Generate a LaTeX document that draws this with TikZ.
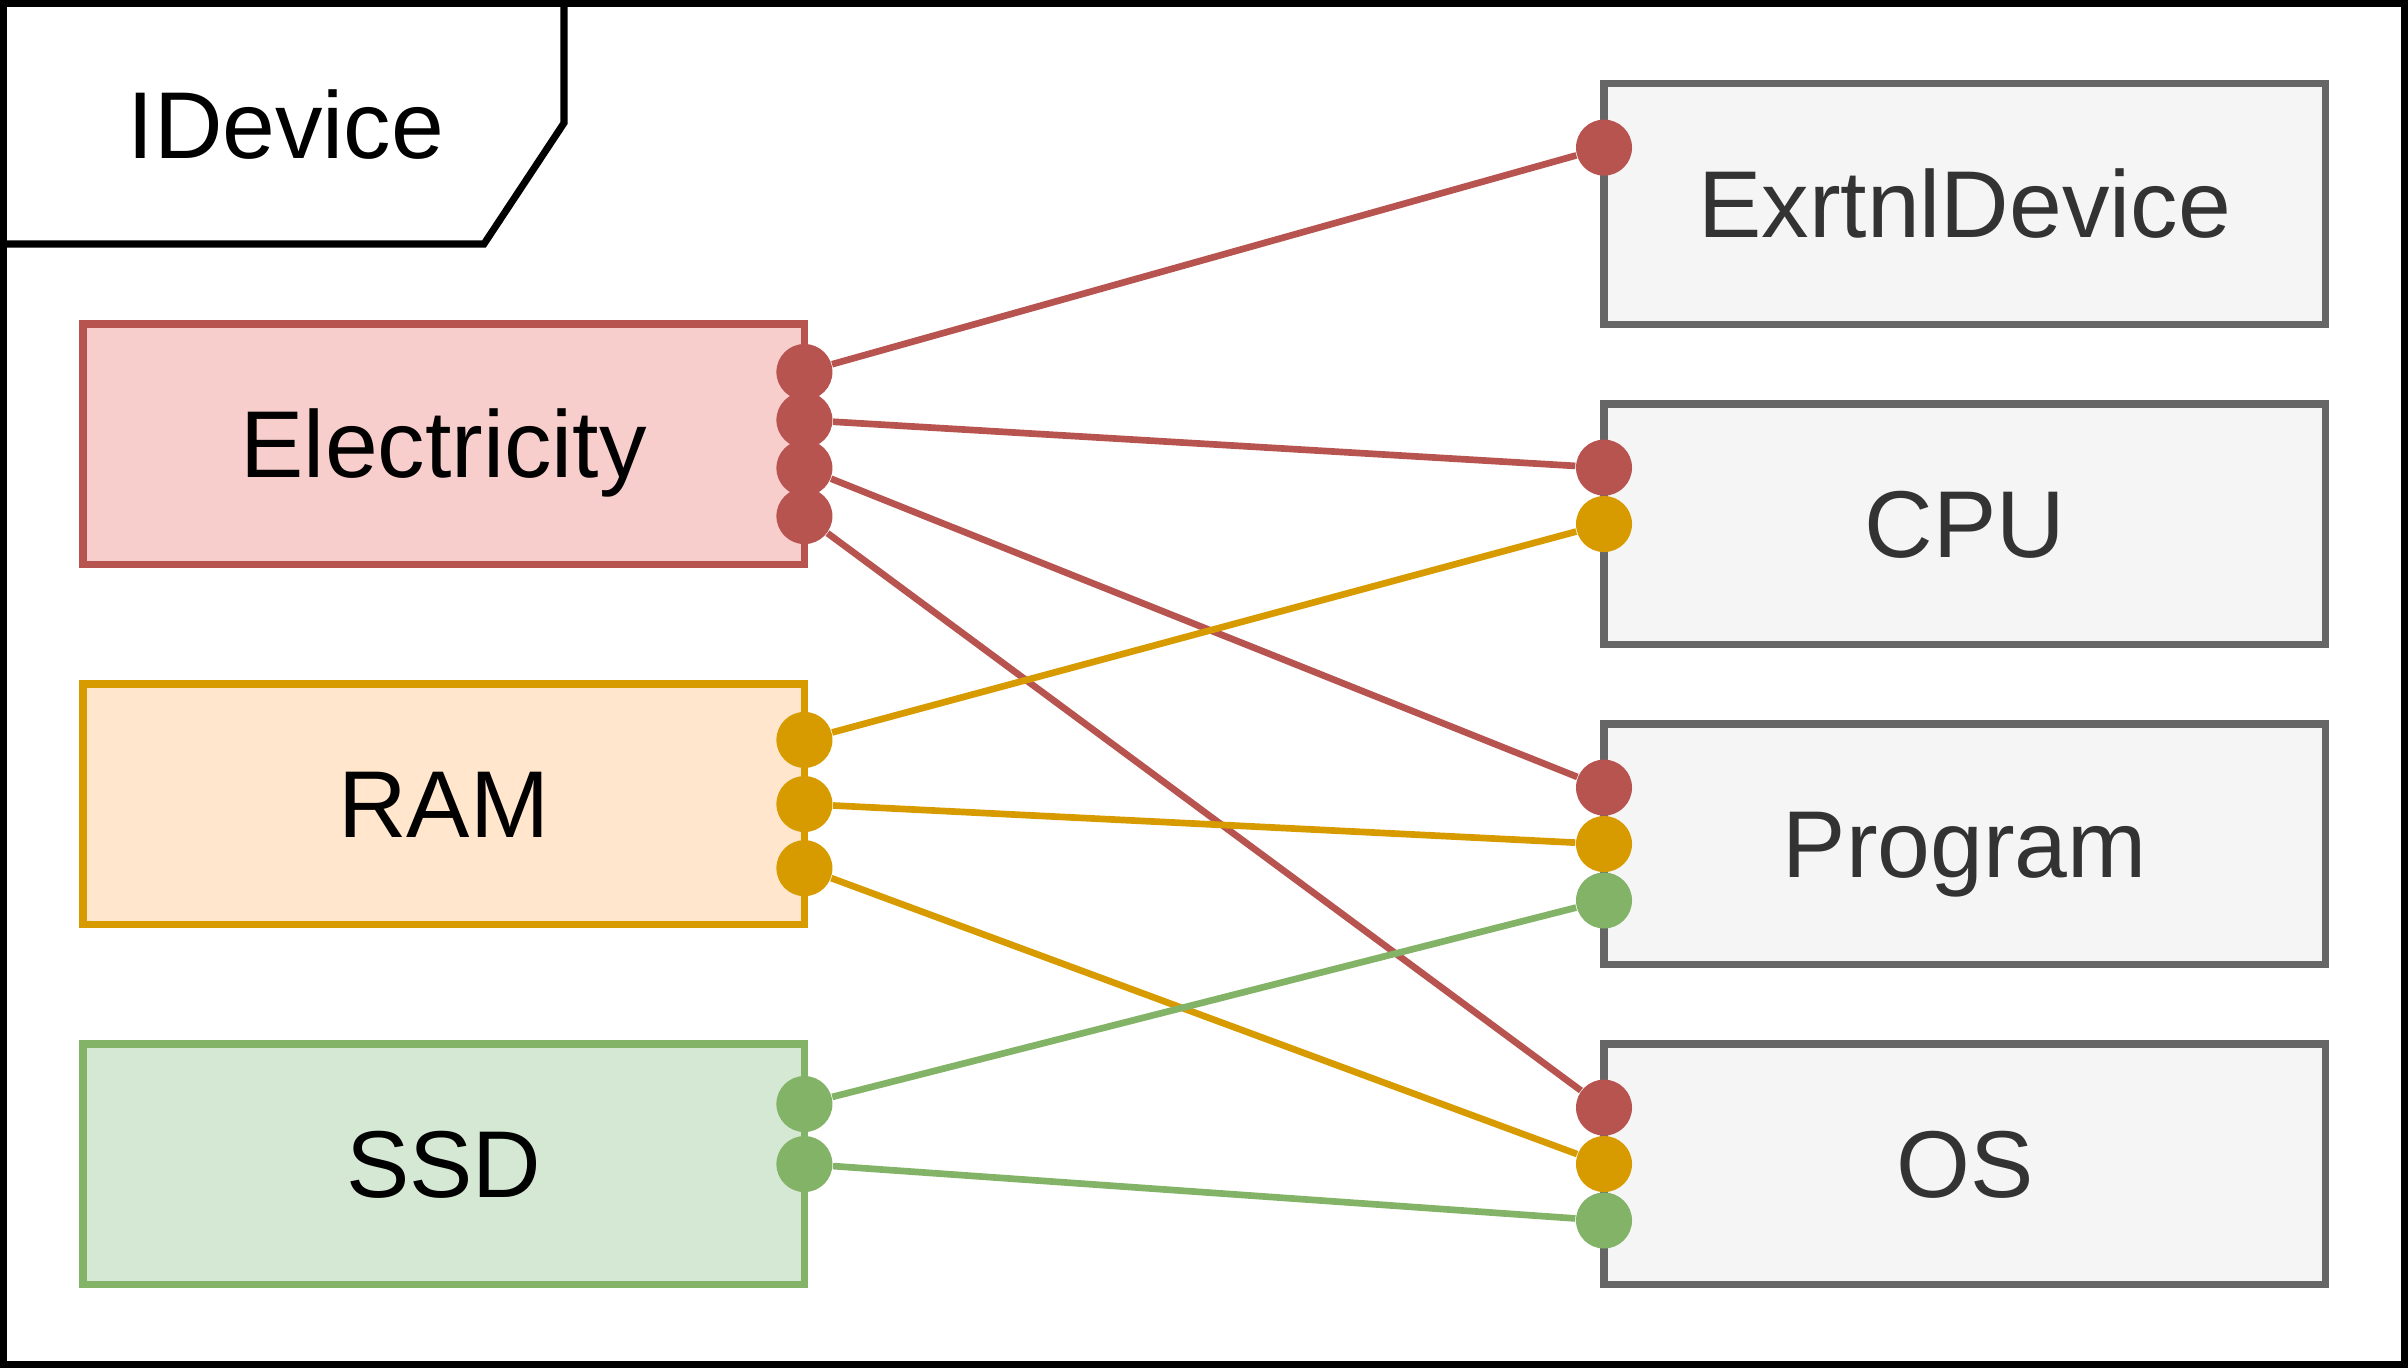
\documentclass[tikz,border=0pt]{standalone}
\usepackage{fontspec}
\setmainfont{Liberation Sans}
\usetikzlibrary{positioning,calc}
\definecolor{elecred}{HTML}{B85450}
\definecolor{elecfill}{HTML}{F8CECC}
\definecolor{ramorange}{HTML}{D79B00}
\definecolor{ramfill}{HTML}{FFE6CC}
\definecolor{ssdgreen}{HTML}{82B366}
\definecolor{ssdfill}{HTML}{D5E8D4}
\definecolor{extgray}{HTML}{666666}
\definecolor{extfill}{HTML}{F5F5F5}
\definecolor{exttext}{HTML}{333333}

\begin{document}
\begin{tikzpicture}[
        x=0.01cm, y=-0.01cm,
        % text is centred on its capitals
        label/.style={inner sep=0pt, text height=19.3pt, text depth=0pt,
            font=\fontsize{27}{32}\selectfont},
        box/.style 2 args={rectangle, draw=#1, fill=#2, line width=2pt, outer sep=0pt,
            minimum width=7.21cm, minimum height=2.4cm, label},
        port/.style={circle, fill=#1, minimum size=0.56cm, inner sep=0pt},
        link/.style={draw=#1, line width=1.9pt}
    ]
        \useasboundingbox (0,0) rectangle (2408,1368);

        % Frame and tab
        \draw[line width=2pt] (3.5,3.5) rectangle (2404.5,1364.5);
        \draw[line width=2pt] (3.5,3.5) -- (564,3.5) -- (564,123) -- (484,244) -- (3.5,244);
        \node[label] (title) at (286,125) {IDevice};

        % Providers
        \node[box={elecred}{elecfill}, anchor=north west] (elec) at (83,324) {Electricity};
        \node[box={ramorange}{ramfill}, anchor=north west] (ram) at (83,684) {RAM};
        \node[box={ssdgreen}{ssdfill}, anchor=north west] (ssd) at (83,1044) {SSD};

        % Consumers
        \node[box={extgray}{extfill}, text=exttext, anchor=north west] (ext) at (1604,84) {ExrtnlDevice};
        \node[box={extgray}{extfill}, text=exttext, anchor=north west] (cpu) at (1604,404) {CPU};
        \node[box={extgray}{extfill}, text=exttext, anchor=north west] (prog) at (1604,724) {Program};
        \node[box={extgray}{extfill}, text=exttext, anchor=north west] (os) at (1604,1044) {OS};

        % Ports
        \foreach \i/\f in {1/0.2, 2/0.4, 3/0.6, 4/0.8}
            \node[port=elecred] (elec\i) at ($(elec.north east)!\f!(elec.south east)$) {};
        \foreach \i/\f in {1/0.233, 2/0.5, 3/0.767}
            \node[port=ramorange] (ram\i) at ($(ram.north east)!\f!(ram.south east)$) {};
        \foreach \i/\f in {1/0.25, 2/0.5}
            \node[port=ssdgreen] (ssd\i) at ($(ssd.north east)!\f!(ssd.south east)$) {};

        \node[port=elecred] (ext1) at ($(ext.north west)!0.265!(ext.south west)$) {};
        \node[port=elecred] (cpu1) at ($(cpu.north west)!0.265!(cpu.south west)$) {};
        \node[port=ramorange] (cpu2) at ($(cpu.north west)!0.5!(cpu.south west)$) {};
        \foreach \n in {prog, os} {
            \node[port=elecred] (\n1) at ($(\n.north west)!0.265!(\n.south west)$) {};
            \node[port=ramorange] (\n2) at ($(\n.north west)!0.5!(\n.south west)$) {};
            \node[port=ssdgreen] (\n3) at ($(\n.north west)!0.735!(\n.south west)$) {};
        }

        % Connections
        \draw[link=elecred] (elec1) -- (ext1);
        \draw[link=elecred] (elec2) -- (cpu1);
        \draw[link=elecred] (elec3) -- (prog1);
        \draw[link=elecred] (elec4) -- (os1);
        \draw[link=ramorange] (ram1) -- (cpu2);
        \draw[link=ramorange] (ram2) -- (prog2);
        \draw[link=ramorange] (ram3) -- (os2);
        \draw[link=ssdgreen] (ssd1) -- (prog3);
        \draw[link=ssdgreen] (ssd2) -- (os3);
    \end{tikzpicture}
\end{document}
